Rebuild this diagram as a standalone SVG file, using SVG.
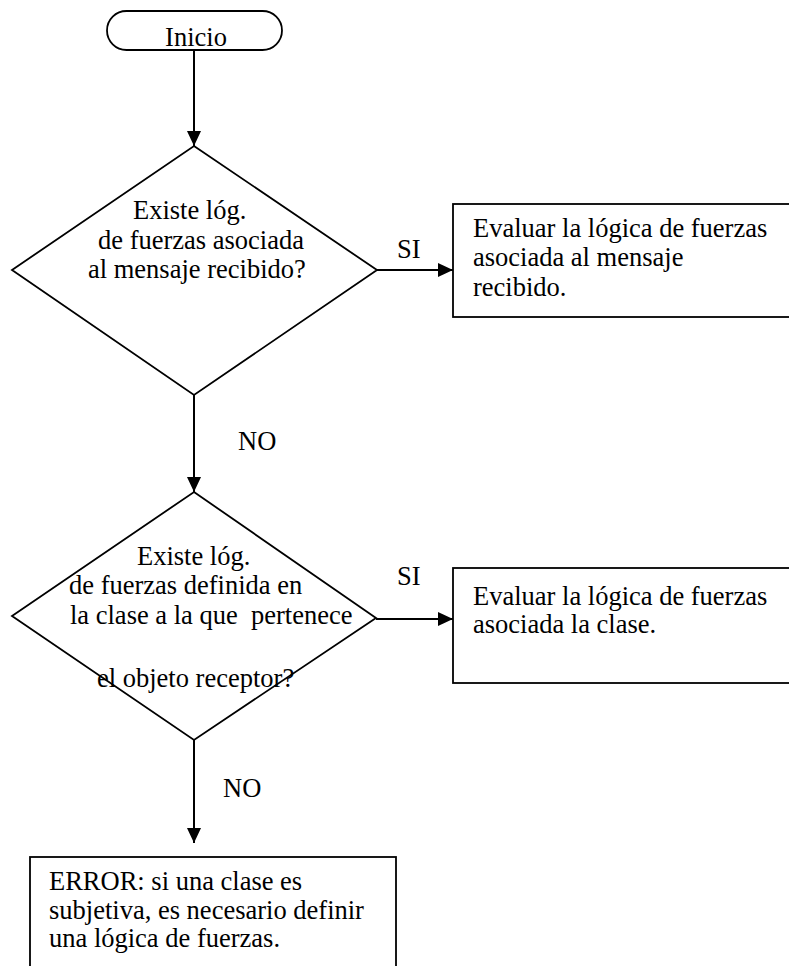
<svg xmlns="http://www.w3.org/2000/svg" width="789" height="966" viewBox="0 0 789 966">
  <style>
    .shape { fill: #ffffff; stroke: #000000; stroke-width: 1.8; }
    .txt { font-family: 'Liberation Serif', 'Times New Roman', serif; font-size: 26.5px; fill: #000000; white-space: pre; }
    .edge { stroke: #000000; stroke-width: 2; fill: none; }
  </style>
  <defs>
    <marker id="arrow" viewBox="0 0 15 14" refX="15" refY="7" markerWidth="15" markerHeight="14" markerUnits="userSpaceOnUse" orient="auto">
      <path d="M0,0 L15,7 L0,14 Z" fill="#000000"/>
    </marker>
  </defs>
  <rect width="789" height="966" fill="#ffffff"/>

  <!-- connectors -->
  <g id="connectors">
    <line class="edge" x1="194" y1="50" x2="194" y2="146" marker-end="url(#arrow)"/>
    <line class="edge" x1="377" y1="270" x2="453" y2="270" marker-end="url(#arrow)"/>
    <line class="edge" x1="194" y1="395" x2="194" y2="492" marker-end="url(#arrow)"/>
    <line class="edge" x1="376" y1="619" x2="453" y2="619" marker-end="url(#arrow)"/>
    <line class="edge" x1="194" y1="740" x2="194" y2="843" marker-end="url(#arrow)"/>
    <text class="txt" x="397" y="258">SI</text>
    <text class="txt" x="238" y="450">NO</text>
    <text class="txt" x="397" y="585">SI</text>
    <text class="txt" x="223" y="797">NO</text>
  </g>

  <!-- start terminal -->
  <g id="inicio">
    <rect class="shape" x="107" y="11" width="175" height="39" rx="19.5" ry="19.5"/>
    <text class="txt" x="196" y="46" text-anchor="middle">Inicio</text>
  </g>

  <!-- first decision -->
  <g id="decision-mensaje">
    <polygon class="shape" points="194,146 377,270 194,395 12,270"/>
    <text class="txt" x="133" y="219">Existe lóg.</text>
    <text class="txt" x="98" y="249">de fuerzas asociada</text>
    <text class="txt" x="88" y="278">al mensaje recibido?</text>
  </g>

  <!-- action: evaluate message logic -->
  <g id="eval-mensaje">
    <rect class="shape" x="453" y="204" width="400" height="113"/>
    <text class="txt" x="473" y="237">Evaluar la lógica de fuerzas</text>
    <text class="txt" x="473" y="266">asociada al mensaje</text>
    <text class="txt" x="473" y="296">recibido.</text>
  </g>

  <!-- second decision -->
  <g id="decision-clase">
    <polygon class="shape" points="194,492 376,618 194,740 12,616"/>
    <text class="txt" x="137" y="565">Existe lóg.</text>
    <text class="txt" x="69" y="594">de fuerzas definida en</text>
    <text class="txt" x="70" y="624">la clase a la que  pertenece</text>
    <text class="txt" x="97" y="687">el objeto receptor?</text>
  </g>

  <!-- action: evaluate class logic -->
  <g id="eval-clase">
    <rect class="shape" x="453" y="568" width="400" height="115"/>
    <text class="txt" x="473" y="605">Evaluar la lógica de fuerzas</text>
    <text class="txt" x="473" y="633">asociada la clase.</text>
  </g>

  <!-- error outcome -->
  <g id="error">
    <rect class="shape" x="30" y="857" width="366" height="200"/>
    <text class="txt" x="49" y="890">ERROR: si una clase es</text>
    <text class="txt" x="49" y="919">subjetiva, es necesario definir</text>
    <text class="txt" x="49" y="947">una lógica de fuerzas.</text>
  </g>
</svg>
